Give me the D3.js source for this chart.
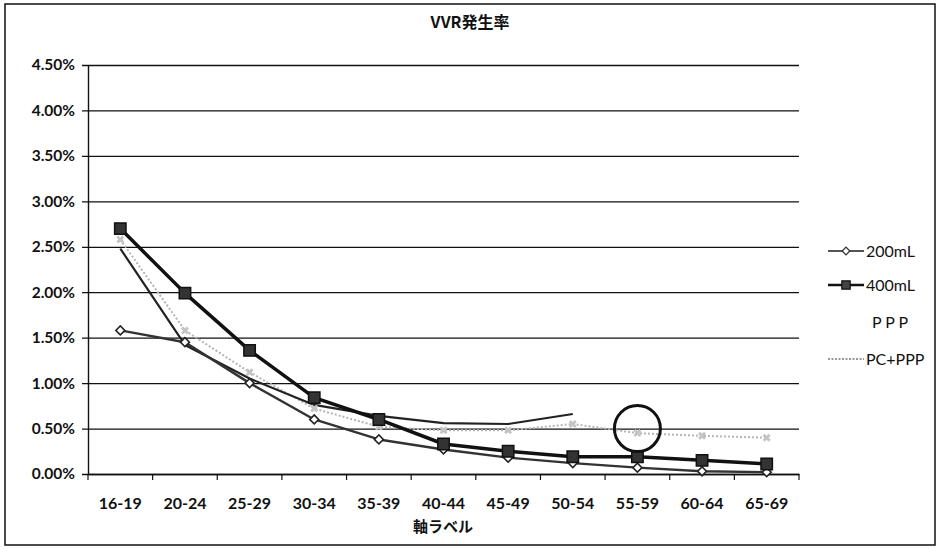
<!DOCTYPE html>
<html><head><meta charset="utf-8">
<script src="https://cdn.jsdelivr.net/npm/d3@7"></script>
<style>body{margin:0;background:#fff}svg{display:block}</style>
</head><body>
<script>
const categories = ["16-19","20-24","25-29","30-34","35-39","40-44","45-49","50-54","55-59","60-64","65-69"];
const yTicks = [0,0.005,0.01,0.015,0.02,0.025,0.03,0.035,0.04,0.045];
const s200 = [0.0158,0.0145,0.0100,0.0060,0.0038,0.0027,0.0018,0.0012,0.0007,0.0003,0.0002];
const s400 = [0.0270,0.0199,0.0136,0.0084,0.0060,0.0033,0.0025,0.0019,0.0019,0.0015,0.0011];
const sPPP = [0.0248,0.0142,0.0105,0.0076,0.0064,0.0056,0.0055,0.0066,null,null,null];
const sPC  = [0.0258,0.0158,0.0112,0.0072,0.0052,0.0048,0.0048,0.0055,0.0045,0.0042,0.0040];
const seriesNames = ["200mL","400mL","P P P","PC+PPP"];

const W=938,H=552;
const svg=d3.select("body").append("svg").attr("width",W).attr("height",H);
const font="Lato, 'Noto Sans', 'Noto Sans CJK JP', sans-serif";
svg.append("rect").attr("x",5).attr("y",4).attr("width",930).attr("height",541)
  .attr("fill","#fff").attr("stroke","#111").attr("stroke-width",1.5);

const L=88,R=799,T=65,B=474;
const x=d3.scaleBand().domain(categories).range([L,R]);
const y=d3.scaleLinear().domain([0,0.045]).range([B,T]);

// gridlines + y axis
const ya=svg.append("g").attr("transform",`translate(${L},0)`)
  .call(d3.axisLeft(y).tickValues(yTicks).tickFormat(d3.format(".2%")).tickSize(-(R-L)).tickSizeOuter(0));
ya.select(".domain").attr("stroke","#111").attr("stroke-width",1.4);
ya.selectAll(".tick line").attr("stroke","#111").attr("stroke-width",1.3).attr("x1",-6);
ya.selectAll(".tick text").attr("x",-13).attr("font-family",font).attr("font-weight","bold").attr("font-size",15.5).attr("fill","#111");

// x axis
const xa=svg.append("g").attr("transform",`translate(0,${B})`)
  .call(d3.axisBottom(x).tickSize(0).tickSizeOuter(0));
xa.select(".domain").attr("stroke","#111").attr("stroke-width",1.4);
xa.selectAll(".tick text").attr("y",24).attr("font-family",font).attr("font-weight","bold").attr("font-size",16).attr("fill","#111");
const bounds=categories.map(c=>x(c)).concat([R]);
svg.append("g").selectAll("line").data(bounds).join("line")
  .attr("x1",d=>d).attr("x2",d=>d).attr("y1",B).attr("y2",B+6).attr("stroke","#111").attr("stroke-width",1.2);

const cx=(i)=>x(categories[i])+x.bandwidth()/2;
function drawLine(vals,opts){
  const line=d3.line().defined(d=>d!==null).x((d,i)=>cx(i)).y(d=>y(d));
  svg.append("path").datum(vals).attr("d",line).attr("fill","none")
    .attr("stroke",opts.color).attr("stroke-width",opts.w).attr("stroke-dasharray",opts.dash||null)
    .attr("stroke-linejoin","round");
}
drawLine(sPC,{color:"#b5b5b5",w:2,dash:"2,2"});
drawLine(sPPP,{color:"#222",w:2.2});
drawLine(s200,{color:"#333",w:2.4});
drawLine(s400,{color:"#111",w:3.5});

// markers
const sym=d3.symbol();
svg.append("g").selectAll("path").data(sPC.map((v,i)=>({v,i})).filter(d=>d.v!==null)).join("path")
  .attr("transform",d=>`translate(${cx(d.i)},${y(d.v)}) rotate(45)`)
  .attr("d",sym.type(d3.symbolCross).size(40)()).attr("fill","#c4c4c4");
svg.append("g").selectAll("path").data(s200.map((v,i)=>({v,i}))).join("path")
  .attr("transform",d=>`translate(${cx(d.i)},${y(d.v)}) rotate(45)`)
  .attr("d",d3.symbol().type(d3.symbolSquare).size(40)()).attr("fill","#fff").attr("stroke","#222").attr("stroke-width",1.6);
svg.append("g").selectAll("path").data(s400.map((v,i)=>({v,i}))).join("path")
  .attr("transform",d=>`translate(${cx(d.i)},${y(d.v)})`)
  .attr("d",d3.symbol().type(d3.symbolSquare).size(130)()).attr("fill","#333").attr("stroke","#111").attr("stroke-width",1.5);

// annotation circle
svg.append("circle").attr("cx",cx(8)).attr("cy",y(0.005)).attr("r",23)
  .attr("fill","none").attr("stroke","#111").attr("stroke-width",3);

// title & axis title
svg.append("text").attr("x",470).attr("y",28).attr("text-anchor","middle")
  .attr("font-family","'Noto Sans CJK JP', sans-serif").attr("font-weight","bold").attr("font-size",16).attr("fill","#111").text("VVR発生率");
svg.append("text").attr("x",443).attr("y",532).attr("text-anchor","middle")
  .attr("font-family","'Noto Sans CJK JP', sans-serif").attr("font-weight","bold").attr("font-size",15).attr("fill","#111").text("軸ラベル");

// legend
const ly=[251,285,322,359];
const lg=svg.append("g");
seriesNames.forEach((n,i)=>{
  if(i===0){
    lg.append("line").attr("x1",828).attr("x2",864).attr("y1",ly[i]).attr("y2",ly[i]).attr("stroke","#555").attr("stroke-width",2);
    lg.append("path").attr("transform",`translate(846,${ly[i]}) rotate(45)`).attr("d",d3.symbol().type(d3.symbolSquare).size(30)())
      .attr("fill","#fff").attr("stroke","#333").attr("stroke-width",1.3);
  } else if(i===1){
    lg.append("line").attr("x1",828).attr("x2",864).attr("y1",ly[i]).attr("y2",ly[i]).attr("stroke","#111").attr("stroke-width",2.5);
    lg.append("path").attr("transform",`translate(846,${ly[i]})`).attr("d",d3.symbol().type(d3.symbolSquare).size(70)())
      .attr("fill","#444").attr("stroke","#111").attr("stroke-width",1.2);
  } else if(i===3){
    lg.append("line").attr("x1",828).attr("x2",864).attr("y1",ly[i]).attr("y2",ly[i]).attr("stroke","#777").attr("stroke-width",1.5).attr("stroke-dasharray","2,1.5");
  }
  lg.append("text").attr("x", i===2?872:866).attr("y",ly[i]).attr("dy","0.35em")
    .attr("font-family",font).attr("font-size",16).attr("fill","#111").text(n);
});
</script>
</body></html>
